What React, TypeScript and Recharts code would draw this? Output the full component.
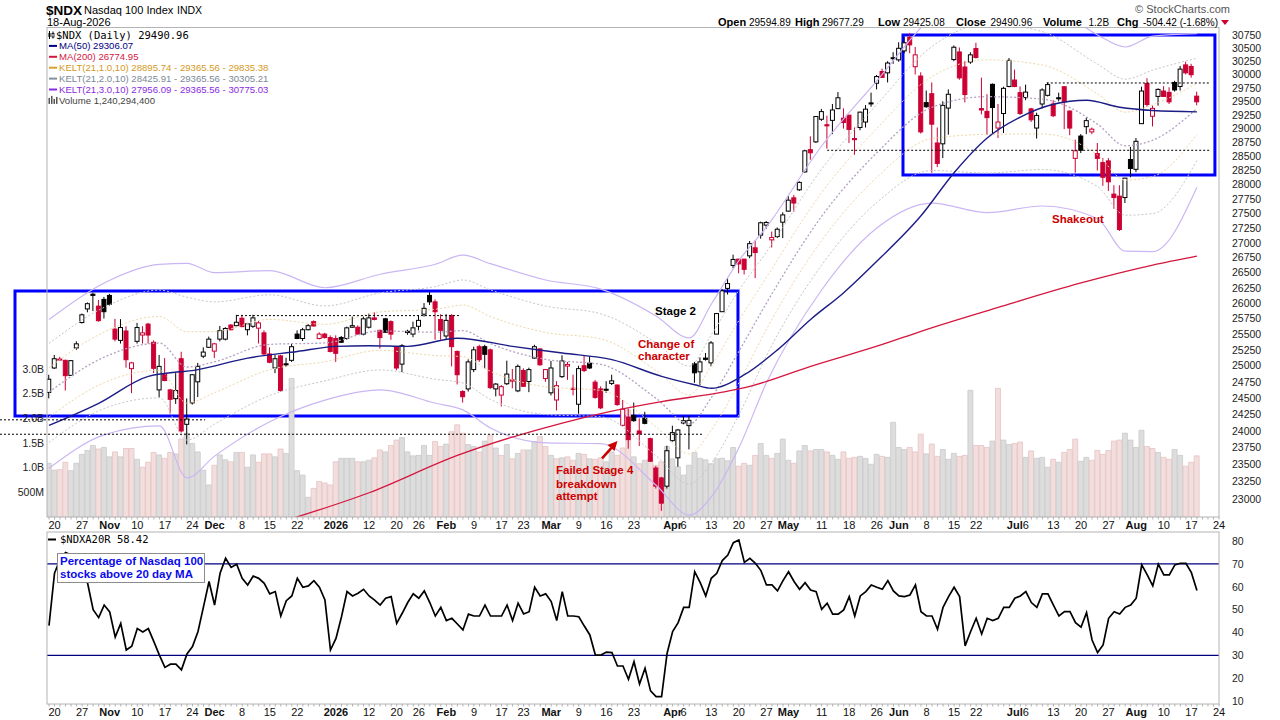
import React from 'react';
import {
  ComposedChart, LineChart, Bar, Line, XAxis, YAxis, Cell, ReferenceArea, ReferenceLine,
} from 'recharts';

const FONT = '"Liberation Sans", Arial, sans-serif';
const MONO = '"DejaVu Sans Mono", monospace';
const RED = '#cc0033';

// ---- x categories: trading-day index 0 = 17-Oct-2025 ... 208 = 18-Aug-2026 ----
const xTickIdx = [1, 6, 11, 16, 21, 26, 30, 35, 40, 45, 52, 58, 63, 67, 72, 77, 82, 86, 91, 96, 101, 106, 113, 115, 120, 125, 130, 134, 140, 145, 150, 154, 159, 164, 168, 175, 177, 182, 187, 192, 197, 202, 207, 212];
const xTickText = ['20', '27', 'Nov', '10', '17', '24', 'Dec', '8', '15', '22', '2026', '12', '20', '26', 'Feb', '9', '17', '23', 'Mar', '9', '16', '23', 'Apr', '6', '13', '20', '27', 'May', '11', '18', '26', 'Jun', '8', '15', '22', 'Jul', '6', '13', '20', '27', 'Aug', '10', '17', '24'];
const boldLabels = ['Nov', 'Dec', '2026', 'Feb', 'Mar', 'Apr', 'May', 'Jun', 'Jul', 'Aug'];
const priceTicks = [23000, 23250, 23500, 23750, 24000, 24250, 24500, 24750, 25000, 25250, 25500, 25750, 26000, 26250, 26500, 26750, 27000, 27250, 27500, 27750, 28000, 28250, 28500, 28750, 29000, 29250, 29500, 29750, 30000, 30250, 30500, 30750];
const volTicks = [0.5, 1, 1.5, 2, 2.5, 3];
const pctTicks = [10, 20, 30, 40, 50, 60, 70, 80];

// ---- OHLC ----
const opens = [
  24585, 24965, 25105, 25085, 24850, 25280, 25685, 25905, 26145, 25950,
  26060, 26125, 25580, 25400, 25550, 24955, 25385, 25485, 25660, 25370,
  24625, 24875, 24625, 24490, 25110, 24100, 24425, 24750, 25150, 25290,
  25230, 25420, 25420, 25645, 25635, 25755, 25570, 25625, 25595, 25520,
  25185, 24965, 25155, 25030, 25085, 25500, 25430, 25570, 25700, 25430,
  25500, 25445, 25430, 25445, 25430, 25610, 25610, 25500, 25610, 25760,
  25560, 25745, 25700, 25290, 25025, 25545, 25500, 25625, 25820, 26125,
  26020, 25735, 25470, 25800, 25225, 24600, 24640, 24940, 25300, 25300,
  25250, 24640, 24545, 24720, 24760, 24610, 24925, 24755, 25120, 25265,
  24800, 24580, 24470, 24830, 24995, 24650, 24405, 25000, 25040, 24745,
  24640, 24635, 24725, 24700, 24085, 24210, 24235, 24000, 24190, 23885,
  23450, 23305, 23185, 23855, 23600, 24120, 24080, 25030, 24905, 25120,
  25045, 25500, 25860, 26240, 26620, 26725, 26725, 26780, 26915, 27130,
  27300, 27050, 27105, 27350, 27540, 27770, 27910, 28225, 28620, 28760,
  29170, 29070, 29150, 29365, 29190, 29245, 28820, 29020, 29120, 29470,
  29835, 30055, 30030, 30315, 30275, 30445, 30705, 30145, 29970, 29475,
  29640, 28740, 28725, 29375, 30280, 30425, 30140, 30235, 30490, 29365,
  29315, 29815, 29010, 29275, 29775, 29895, 29660, 29570, 29360, 29010,
  29450, 29610, 29450, 29565, 29770, 29320, 28465, 28865, 29035, 28940,
  28550, 28390, 28420, 27835, 27800, 27775, 28445, 28270, 29090, 29830,
  29225, 29590, 29690, 29665, 29850, 29775, 30180, 30150, 29595,
];
const highs = [
  24860, 25170, 25140, 25095, 25090, 25385, 25830, 26010, 26170, 26050,
  26100, 26150, 25745, 25740, 25625, 25060, 25680, 25625, 25680, 25400,
  25170, 25120, 24640, 24885, 25220, 24495, 24870, 25045, 25290, 25460,
  25360, 25630, 25610, 25660, 25810, 25810, 25680, 25810, 25710, 25560,
  25290, 25170, 25170, 25125, 25345, 25560, 25600, 25660, 25720, 25530,
  25520, 25480, 25480, 25470, 25620, 25780, 25640, 25780, 25830, 25850,
  25570, 25760, 25720, 25310, 25340, 25570, 25700, 25800, 26000, 26180,
  26060, 25820, 25820, 25820, 25240, 24620, 25100, 25300, 25330, 25330,
  25270, 24730, 24700, 25080, 24950, 25020, 24960, 24970, 25330, 25270,
  24950, 25075, 24760, 25165, 25060, 24860, 25000, 25165, 25150, 24780,
  24680, 24760, 24860, 24710, 24470, 24340, 24430, 24190, 24290, 23900,
  23480, 23320, 23780, 24080, 24030, 24230, 24230, 25060, 25130, 25200,
  25390, 25840, 26230, 26410, 26800, 26730, 26730, 27030, 27040, 27360,
  27370, 27190, 27260, 27520, 27800, 27820, 28060, 28620, 28860, 29230,
  29360, 29235, 29450, 29670, 29370, 29250, 29020, 29310, 29430, 29660,
  29990, 30110, 30250, 30420, 30610, 30710, 30790, 30520, 30040, 29700,
  29850, 29020, 29500, 29720, 30550, 30510, 30250, 30420, 30600, 29940,
  29630, 29830, 29450, 29770, 30310, 30090, 29775, 29810, 29380, 29290,
  29740, 29850, 29520, 29660, 29780, 29330, 28800, 28900, 29200, 29020,
  28740, 28470, 28470, 27990, 27990, 28120, 28670, 28830, 29770, 29930,
  29420, 29740, 29780, 29760, 29880, 30160, 30240, 30200, 29677,
];
const lows = [
  24495, 24950, 25080, 24615, 24840, 25250, 25670, 25850, 25870, 25700,
  25750, 25960, 25385, 25350, 24970, 24575, 25350, 25350, 25350, 24885,
  24510, 24760, 24260, 24410, 23975, 23800, 24400, 24515, 25120, 25280,
  25120, 25385, 25400, 25560, 25625, 25610, 25480, 25600, 25350, 25155,
  25040, 24885, 24600, 24980, 25060, 25420, 25390, 25560, 25620, 25415,
  25430, 25210, 25060, 25360, 25410, 25600, 25495, 25480, 25590, 25720,
  25270, 25520, 25410, 24930, 24900, 25490, 25450, 25560, 25780, 25970,
  25410, 25410, 25410, 24990, 24710, 24430, 24600, 24900, 25060, 24960,
  24640, 24525, 24370, 24700, 24650, 24590, 24670, 24590, 25110, 25000,
  24750, 24540, 24310, 24810, 24780, 24540, 24260, 24900, 24950, 24490,
  24330, 24580, 24700, 24380, 24070, 23735, 24140, 23775, 24100, 23540,
  23150, 22830, 23150, 23840, 23470, 24100, 23725, 24735, 24700, 25080,
  24990, 25500, 25860, 26140, 26570, 26490, 26470, 26740, 26410, 27070,
  27240, 26920, 27080, 27080, 27530, 27530, 27890, 28210, 28440, 28740,
  29140, 28640, 28900, 29355, 29000, 28740, 28530, 28970, 29020, 29400,
  29720, 29940, 29850, 30200, 30240, 30400, 30400, 30000, 28910, 29380,
  28210, 28310, 28470, 28890, 30250, 29900, 29480, 30200, 30300, 29260,
  28885, 28920, 28830, 28920, 29760, 29760, 29250, 29520, 29120, 28820,
  29370, 29590, 29210, 29500, 28990, 28880, 28210, 28560, 28900, 28900,
  28250, 27980, 27890, 27580, 27200, 27680, 28130, 28220, 29090, 29400,
  29040, 29420, 29580, 29450, 29680, 29700, 30000, 29940, 29425,
];
const closes = [
  24790, 25110, 25095, 24845, 25080, 25345, 25810, 25990, 26125, 25715,
  25860, 25980, 25420, 25605, 25095, 25045, 25605, 25520, 25485, 24960,
  24990, 24770, 24480, 24615, 24000, 24180, 24860, 24990, 25215, 25420,
  25345, 25555, 25590, 25570, 25690, 25620, 25665, 25760, 25680, 25185,
  25055, 25110, 24615, 25020, 25300, 25430, 25570, 25635, 25630, 25500,
  25445, 25225, 25195, 25370, 25600, 25635, 25500, 25745, 25760, 25735,
  25445, 25530, 25500, 24965, 25315, 25525, 25600, 25720, 25915, 26020,
  25860, 25560, 25720, 25300, 24860, 24520, 25060, 25250, 25095, 25180,
  24660, 24715, 24675, 24870, 24780, 24990, 24680, 24940, 25300, 25015,
  24940, 24965, 24690, 25075, 25020, 24640, 24955, 24925, 24965, 24510,
  24350, 24620, 24765, 24400, 24330, 23870, 24155, 23960, 24115, 23550,
  23185, 22940, 23705, 23975, 24015, 24155, 24160, 24890, 25060, 25100,
  25360, 25830, 26200, 26320, 26720, 26645, 26555, 26985, 26835, 27340,
  27345, 27090, 27230, 27475, 27730, 27680, 28040, 28600, 28565, 29220,
  29310, 29050, 29340, 29565, 29110, 28985, 28800, 29300, 29355, 29455,
  29960, 29945, 30215, 30300, 30495, 30600, 30560, 30370, 28940, 29400,
  29080, 28375, 29425, 29630, 30515, 29935, 29625, 30370, 30320, 29340,
  29200, 29385, 29120, 29740, 30265, 29775, 29275, 29670, 29160, 29240,
  29710, 29810, 29235, 29550, 29490, 29010, 28600, 28610, 29145, 28990,
  28465, 28130, 28050, 27775, 27225, 28115, 28285, 28770, 29690, 29440,
  29370, 29720, 29590, 29490, 29710, 30100, 30030, 29995, 29491,
];
// volume, billions of shares
const volumes = [
  1.09, 0.95, 0.96, 1.11, 0.94, 1.09, 1.27, 1.35, 1.45, 1.38,
  1.41, 1.22, 1.32, 1.22, 1.39, 1.39, 1.17, 1.01, 1.11, 1.31,
  1.26, 1.19, 1.31, 1.28, 1.58, 1.70, 1.49, 1.32, 0.95, 0.65,
  1.05, 1.26, 1.16, 1.12, 1.31, 1.31, 1.01, 1.26, 1.11, 1.28,
  1.28, 1.22, 1.38, 1.29, 2.81, 0.94, 0.85, 0.40, 0.58, 0.72,
  0.69, 0.65, 1.12, 1.19, 1.19, 1.19, 1.12, 1.12, 1.15, 1.20,
  1.36, 1.32, 1.45, 1.56, 1.61, 1.32, 1.24, 1.25, 1.45, 1.25,
  1.53, 1.43, 1.48, 1.73, 1.87, 1.70, 1.47, 1.43, 1.32, 1.54,
  1.66, 1.40, 1.25, 1.47, 1.18, 1.29, 1.36, 1.36, 1.53, 1.63,
  1.43, 1.25, 1.18, 1.20, 1.22, 1.15, 1.29, 1.27, 1.18, 1.17,
  1.20, 1.12, 1.32, 1.25, 1.40, 2.17, 1.22, 1.08, 1.15, 1.18,
  1.05, 1.12, 1.43, 1.18, 1.02, 0.85, 1.05, 1.31, 1.19, 1.16,
  1.08, 1.18, 1.19, 1.14, 1.41, 1.03, 1.09, 1.05, 1.25, 1.49,
  1.25, 1.19, 1.29, 1.58, 1.15, 1.09, 1.34, 1.45, 1.34, 1.37,
  1.37, 1.32, 1.25, 1.17, 1.32, 1.19, 1.21, 1.23, 1.19, 1.07,
  1.27, 1.23, 1.21, 1.92, 1.41, 1.37, 1.41, 1.32, 1.68, 1.28,
  1.48, 1.23, 1.37, 1.17, 1.29, 1.23, 1.25, 2.57, 1.45, 1.45,
  1.41, 1.54, 2.61, 1.56, 1.47, 1.49, 1.52, 1.21, 1.34, 1.19,
  1.21, 1.01, 1.17, 1.11, 1.31, 1.37, 1.58, 1.13, 1.21, 1.15,
  1.35, 1.27, 1.35, 1.54, 1.56, 1.70, 1.56, 1.41, 1.76, 1.43,
  1.39, 1.31, 1.21, 1.17, 1.37, 1.25, 1.03, 1.11, 1.24,
];
// $NDXA20R : % of Nasdaq 100 stocks above 20-day MA
const pct20 = [
  43, 66, 72, 75, 74, 70, 66, 61.5, 50, 46.5,
  52, 49, 38, 44, 32.3, 34, 41.7, 40.2, 41.7, 36,
  30.1, 24.7, 26.1, 26.1, 23.6, 30.6, 33.8, 40.4, 51.3, 62.3,
  52, 65.9, 72.5, 68.5, 69.9, 63.7, 60.8, 64.7, 63.7, 61.5,
  56.9, 57.9, 47.2, 53.9, 56, 63.7, 59.8, 60.4, 62.7, 59.8,
  54.2, 32.3, 37.4, 46.9, 57.9, 56, 57.2, 58.9, 56, 54.2,
  52, 55, 55.7, 44, 48.4, 53.1, 56.9, 55, 58.2, 53.1,
  47.2, 51, 45.2, 46.2, 43.7, 41.1, 48, 47.2, 47.2, 52,
  47.2, 47.2, 47.2, 52, 45.2, 52.8, 48.1, 49.1, 59.8, 56,
  56.9, 53.5, 45.2, 57.9, 47.2, 47.2, 46.9, 42.8, 38.9, 30.1,
  30.1, 31.4, 31.2, 25.3, 25.3, 19.5, 27.2, 17.4, 24.3, 14.4,
  11.9, 11.9, 30.9, 40.4, 44.3, 51, 51, 66.6, 61.8, 56,
  63.7, 65.9, 71.5, 73.9, 79.3, 80.5, 70.7, 72.5, 70.3, 67.1,
  60.8, 60.8, 58.2, 62.7, 66.6, 62.3, 58.9, 61.8, 58.6, 57.9,
  50.1, 52.8, 48, 48, 49.9, 55.7, 47.2, 56, 57.9, 60.8,
  59.8, 58.9, 62.7, 58.2, 56, 55.7, 56.4, 60.8, 49.1, 47.2,
  47.2, 41.4, 51, 55.7, 59.8, 55.7, 34.1, 40.4, 46.2, 39.3,
  46.2, 45.2, 46.2, 51, 51, 55, 56, 57.9, 53.1, 51,
  56.9, 56.9, 52, 47.2, 49.1, 49.1, 44.3, 42.3, 48.7, 36.7,
  31.2, 34.5, 46.2, 49.1, 48.1, 51, 52, 55, 69.6, 65.2,
  60.4, 69.9, 65.2, 65.2, 69.6, 70.3, 70.3, 66.2, 58.42,
];

// ---- indicator lines (sparse points) ----
const ma50Idx = [0, 9, 18, 27, 36, 45, 52, 58, 65, 74, 84, 93, 102, 111, 117, 120, 126, 132, 138, 144, 150, 158, 164, 170, 176, 182, 188, 194, 200, 208];
const ma50Val = [24085, 24420, 24835, 24940, 25120, 25225, 25305, 25315, 25305, 25435, 25305, 25200, 25095, 24835, 24705, 24650, 24860, 25250, 25735, 26170, 26690, 27460, 28210, 28830, 29210, 29445, 29520, 29390, 29330, 29306];
const ma200Idx = [44, 58, 74, 93, 102, 111, 122, 127, 138, 151, 158, 172, 187, 200, 208];
const ma200Val = [22720, 23090, 23635, 24120, 24300, 24445, 24590, 24680, 24990, 25335, 25545, 25930, 26330, 26625, 26775];
// Keltner(21,k,10): middle line and ATR; bands are middle +/- k*ATR
const keltIdx = [0, 10, 20, 25, 30, 40, 50, 60, 70, 75, 80, 90, 100, 110, 116, 120, 125, 130, 140, 150, 160, 170, 180, 190, 195, 200, 208];
const keltMid = [24590, 25135, 25357, 24980, 25062, 25337, 25360, 25550, 25530, 25555, 25347, 25100, 25020, 24495, 24105, 24505, 25225, 26000, 27450, 28565, 29390, 29585, 29540, 29080, 28690, 28790, 29366];
const keltAtr = [381, 398, 427, 558, 479, 399, 297, 308, 370, 412, 434, 426, 403, 432, 445, 492, 492, 422, 412, 438, 570, 690, 637, 557, 610, 646, 470];

const X_MIN = -0.362;
const X_MAX = 212;
const P_MIN = 22742;
const P_MAX = 30904;
const V_MAX = 9.94;

type Row = {
  i: number; open: number; high: number; low: number; close: number; prevClose: number; vol: number;
  ma50: number | null; ma200: number | null;
  kMid: number | null; kU1: number | null; kU2: number | null; kU3: number | null;
  kL1: number | null; kL2: number | null; kL3: number | null;
};

function buildRows(): Row[] {
  const rows: Row[] = closes.map((c, i) => ({
    i, open: opens[i], high: highs[i], low: lows[i], close: c,
    prevClose: i > 0 ? closes[i - 1] : c, vol: volumes[i],
    ma50: null, ma200: null, kMid: null, kU1: null, kU2: null, kU3: null, kL1: null, kL2: null, kL3: null,
  }));
  ma50Idx.forEach((ix, k) => { rows[ix].ma50 = ma50Val[k]; });
  ma200Idx.forEach((ix, k) => { rows[ix].ma200 = ma200Val[k]; });
  keltIdx.forEach((ix, k) => {
    const m = keltMid[k]; const a = keltAtr[k]; const r = rows[ix];
    r.kMid = m; r.kU1 = m + a; r.kU2 = m + 2 * a; r.kU3 = m + 3 * a;
    r.kL1 = m - a; r.kL2 = m - 2 * a; r.kL3 = m - 3 * a;
  });
  return rows;
}

const allTicks = Array.from({ length: 213 }, (_, k) => k);
const tickMap: Record<number, { t: string; b: boolean }> = {};
xTickIdx.forEach((ix, k) => { tickMap[ix] = { t: xTickText[k], b: boldLabels.includes(xTickText[k]) }; });

const renderXTick = (props: any) => {
  const { x, y, payload } = props;
  const m = tickMap[payload.value];
  return (
    <g>
      <line x1={x} x2={x} y1={y} y2={y + 2.5} stroke="#b0b0b0" strokeWidth={1} />
      {m ? (
        <text x={x} y={y + 11.5} textAnchor="middle" fontSize={11} fontWeight={m.b ? 700 : 400} fontFamily={FONT} fill="#111">{m.t}</text>
      ) : null}
    </g>
  );
};

const fmtVol = (v: number) => (v < 1 ? `${Math.round(v * 1000)}M` : `${v.toFixed(1)}B`);

const CandleShape = (props: any) => {
  const { x, y, width, height, payload } = props;
  if (!payload || x == null || y == null) return null;
  const { open, close, high, low, prevClose } = payload as Row;
  const top = Math.min(y, y + height);
  const h = Math.abs(height);
  const lh = Math.log(high);
  const ll = Math.log(low);
  const py = (v: number) => (lh === ll ? top : top + ((lh - Math.log(v)) / (lh - ll)) * h);
  const color = close < prevClose ? RED : '#000';
  const hollow = close >= open;
  const cx = x + width / 2;
  const yO = py(open);
  const yC = py(close);
  const bTop = Math.min(yO, yC);
  const bH = Math.max(1, Math.abs(yO - yC));
  return (
    <g>
      <line x1={cx} x2={cx} y1={top} y2={top + h} stroke={color} strokeWidth={1} />
      <rect x={x + 0.5} y={bTop} width={Math.max(1, width - 1)} height={bH} fill={hollow ? '#fff' : color} stroke={color} strokeWidth={1} />
    </g>
  );
};

const axisTick = { fontSize: 10.5, fill: '#222', fontFamily: FONT };

export default function App() {
  const rows = buildRows();
  const pctRows = pct20.map((v, i) => ({ i, v }));
  const dotted = '2 2';
  const lg = (k: number) => 38.5 + 10.9 * k;

  return (
    <div style={{ position: 'absolute', left: 0, top: 0, width: 1280, height: 720, background: '#fff', overflow: 'hidden' }}>
      <div style={{ position: 'absolute', left: 0, top: 0 }}>
        <ComposedChart width={1280} height={532} data={rows} margin={{ top: 27, right: 0, bottom: 0, left: 0 }}>
          <XAxis xAxisId="main" dataKey="i" type="number" domain={[X_MIN, X_MAX]} allowDataOverflow ticks={allTicks} interval={0}
            tick={renderXTick} tickLine={false} axisLine={false} tickSize={0} tickMargin={0} height={15} />
          <XAxis xAxisId="volX" dataKey="i" type="number" domain={[X_MIN, X_MAX]} allowDataOverflow hide />
          <YAxis yAxisId="price" orientation="right" type="number" scale="log" domain={[P_MIN, P_MAX]} allowDataOverflow
            ticks={priceTicks} interval={0} width={61} tickLine={false} axisLine={false} tickSize={0} tickMargin={13} tick={axisTick} />
          <YAxis yAxisId="volY" orientation="left" type="number" domain={[0, V_MAX]} allowDataOverflow ticks={volTicks} interval={0}
            width={47} tickFormatter={fmtVol} tickLine={false} axisLine={false} tickSize={0} tickMargin={3} tick={axisTick} />

          <Bar xAxisId="volX" yAxisId="volY" dataKey="vol" barSize={5} isAnimationActive={false}>
            {rows.map((r) => (
              <Cell key={r.i} fill={r.close < r.prevClose ? '#f3dede' : '#dddddd'} stroke={r.close < r.prevClose ? '#e6c3c3' : '#c9c9c9'} strokeWidth={0.8} />
            ))}
          </Bar>

          <Line xAxisId="main" yAxisId="price" dataKey="kU3" type="monotone" stroke="#cbb6f3" strokeWidth={1.2} dot={false} connectNulls isAnimationActive={false} />
          <Line xAxisId="main" yAxisId="price" dataKey="kL3" type="monotone" stroke="#cbb6f3" strokeWidth={1.2} dot={false} connectNulls isAnimationActive={false} />
          <Line xAxisId="main" yAxisId="price" dataKey="kU2" type="monotone" stroke="#c6c6c6" strokeWidth={1} strokeDasharray={dotted} dot={false} connectNulls isAnimationActive={false} />
          <Line xAxisId="main" yAxisId="price" dataKey="kL2" type="monotone" stroke="#c6c6c6" strokeWidth={1} strokeDasharray={dotted} dot={false} connectNulls isAnimationActive={false} />
          <Line xAxisId="main" yAxisId="price" dataKey="kU1" type="monotone" stroke="#efd6a6" strokeWidth={1} strokeDasharray={dotted} dot={false} connectNulls isAnimationActive={false} />
          <Line xAxisId="main" yAxisId="price" dataKey="kL1" type="monotone" stroke="#efd6a6" strokeWidth={1} strokeDasharray={dotted} dot={false} connectNulls isAnimationActive={false} />
          <Line xAxisId="main" yAxisId="price" dataKey="kMid" type="monotone" stroke="#b4a0c2" strokeWidth={1.3} strokeDasharray={dotted} dot={false} connectNulls isAnimationActive={false} />
          <Line xAxisId="main" yAxisId="price" dataKey="ma200" type="monotone" stroke="#d4173f" strokeWidth={1.3} dot={false} connectNulls isAnimationActive={false} />
          <Line xAxisId="main" yAxisId="price" dataKey="ma50" type="monotone" stroke="#1c1c86" strokeWidth={1.4} dot={false} connectNulls isAnimationActive={false} />

          <Bar xAxisId="main" yAxisId="price" dataKey={(d: Row) => [d.low, d.high]} barSize={5} shape={CandleShape} isAnimationActive={false} />

          <ReferenceLine xAxisId="main" yAxisId="price" ifOverflow="visible" stroke="#000" strokeDasharray="2 2" segment={[{ x: 34.06, y: 25797 }, { x: 74.47, y: 25797 }]} />
          <ReferenceLine xAxisId="main" yAxisId="price" ifOverflow="visible" stroke="#000" strokeDasharray="2 2" segment={[{ x: -8.88, y: 24168 }, { x: 28.27, y: 24168 }]} />
          <ReferenceLine xAxisId="main" yAxisId="price" ifOverflow="visible" stroke="#000" strokeDasharray="2 2" segment={[{ x: -8.88, y: 23951 }, { x: 118.5, y: 23951 }]} />
          <ReferenceLine xAxisId="main" yAxisId="price" ifOverflow="visible" stroke="#000" strokeDasharray="2 2" segment={[{ x: 141, y: 28609 }, { x: 210.3, y: 28609 }]} />
          <ReferenceLine xAxisId="main" yAxisId="price" ifOverflow="visible" stroke="#000" strokeDasharray="2 2" segment={[{ x: 180.8, y: 29840 }, { x: 210.3, y: 29840 }]} />

          <ReferenceArea xAxisId="main" yAxisId="price" ifOverflow="visible" x1={-6.16} x2={124.84} y1={24227} y2={26198} fill="none" fillOpacity={0} stroke="#0000ff" strokeWidth={3} />
          <ReferenceArea xAxisId="main" yAxisId="price" ifOverflow="visible" x1={154.74} x2={211.26} y1={28171} y2={30750} fill="none" fillOpacity={0} stroke="#0000ff" strokeWidth={3} />
        </ComposedChart>
      </div>

      <div style={{ position: 'absolute', left: 0, top: 527 }}>
        <LineChart width={1280} height={193} data={pctRows} margin={{ top: 5, right: 0, bottom: 0, left: 47 }}>
          <XAxis dataKey="i" type="number" domain={[X_MIN, X_MAX]} allowDataOverflow ticks={allTicks} interval={0}
            tick={renderXTick} tickLine={false} axisLine={false} tickSize={0} tickMargin={0} height={16} />
          <YAxis orientation="right" type="number" domain={[8.66, 84]} allowDataOverflow ticks={pctTicks} interval={0} width={61}
            tickLine={false} axisLine={false} tickSize={0} tickMargin={13} tick={axisTick} />
          <ReferenceLine y={70} stroke="#000080" strokeWidth={1.2} />
          <ReferenceLine y={30} stroke="#000080" strokeWidth={1.2} />
          <Line dataKey="v" type="linear" stroke="#000" strokeWidth={1.7} dot={false} isAnimationActive={false} />
        </LineChart>
      </div>

      <svg width={1280} height={720} style={{ position: 'absolute', left: 0, top: 0, pointerEvents: 'none' }} fontFamily={FONT}>
        {/* panel frames */}
        <rect x={47} y={27.5} width={1172} height={489.5} fill="none" stroke="#b4b4b4" strokeWidth={1} />
        <rect x={47} y={532} width={1172} height={172} fill="none" stroke="#b4b4b4" strokeWidth={1} />

        {/* header */}
        <text x={46} y={15} fontSize={13.5} fontWeight={700} fill="#000">$NDX</text>
        <text x={84} y={14} fontSize={11} fill="#000">Nasdaq 100 Index</text>
        <text x={177} y={14} fontSize={10.5} fill="#000">INDX</text>
        <text x={47} y={26} fontSize={11} fill="#000">18-Aug-2026</text>
        <text x={1230} y={13} fontSize={11} fill="#555" textAnchor="end">© StockCharts.com</text>
        <g fill="#000">
          <text x={718} y={26} fontSize={11} fontWeight={700}>Open</text>
          <text x={749} y={26} fontSize={10}>29594.89</text>
          <text x={795} y={26} fontSize={11} fontWeight={700}>High</text>
          <text x={822} y={26} fontSize={10}>29677.29</text>
          <text x={878} y={26} fontSize={11} fontWeight={700}>Low</text>
          <text x={903} y={26} fontSize={10}>29425.08</text>
          <text x={956} y={26} fontSize={11} fontWeight={700}>Close</text>
          <text x={990.5} y={26} fontSize={10}>29490.96</text>
          <text x={1043} y={26} fontSize={11} fontWeight={700}>Volume</text>
          <text x={1088.5} y={26} fontSize={10}>1.2B</text>
          <text x={1117} y={26} fontSize={11} fontWeight={700}>Chg</text>
          <text x={1143} y={26} fontSize={10}>-504.42 (-1.68%)</text>
        </g>
        <polygon points="1221,20 1229,20 1225,25" fill={RED} />

        {/* legend */}
        <g fontSize={9.6}>
          <line x1={49.5} x2={49.5} y1={31} y2={39} stroke="#000" />
          <rect x={48.5} y={33} width={2} height={4} fill="#000" />
          <line x1={53} x2={53} y1={31.5} y2={38.5} stroke="#000" />
          <rect x={52} y={33.5} width={2} height={3.5} fill="#fff" stroke="#000" strokeWidth={0.8} />
          <text x={56} y={lg(0)} fill="#000" fontFamily={MONO} fontSize={10.5}>$NDX (Daily) 29490.96</text>
          <line x1={49} x2={57} y1={lg(1) - 3.5} y2={lg(1) - 3.5} stroke="#000080" strokeWidth={2} />
          <text x={59} y={lg(1)} fill="#000080">MA(50) 29306.07</text>
          <line x1={49} x2={57} y1={lg(2) - 3.5} y2={lg(2) - 3.5} stroke="#d4173f" strokeWidth={2} />
          <text x={59} y={lg(2)} fill="#d4173f">MA(200) 26774.95</text>
          <line x1={49} x2={57} y1={lg(3) - 3.5} y2={lg(3) - 3.5} stroke="#dba030" strokeWidth={2} />
          <text x={59} y={lg(3)} fill="#d49a22">KELT(21,1.0,10) 28895.74 - 29365.56 - 29835.38</text>
          <line x1={49} x2={57} y1={lg(4) - 3.5} y2={lg(4) - 3.5} stroke="#8290a0" strokeWidth={2} />
          <text x={59} y={lg(4)} fill="#7c8896">KELT(21,2.0,10) 28425.91 - 29365.56 - 30305.21</text>
          <line x1={49} x2={57} y1={lg(5) - 3.5} y2={lg(5) - 3.5} stroke="#8a2be2" strokeWidth={2} />
          <text x={59} y={lg(5)} fill="#8a2be2">KELT(21,3.0,10) 27956.09 - 29365.56 - 30775.03</text>
          <rect x={48.5} y={lg(6) - 6} width={1.5} height={6} fill="#555" />
          <rect x={51} y={lg(6) - 8} width={1.5} height={8} fill="#555" />
          <rect x={53.5} y={lg(6) - 5} width={1.5} height={5} fill="#555" />
          <rect x={56} y={lg(6) - 7} width={1.5} height={7} fill="#555" />
          <text x={59} y={lg(6)} fill="#444">Volume 1,240,294,400</text>
        </g>

        {/* annotations */}
        <g fontSize={11.5} fontWeight={700}>
          <text x={655} y={315} fill="#000">Stage 2</text>
          <text x={638} y={347.5} fill="#cc0000">Change of</text>
          <text x={638} y={360} fill="#cc0000">character</text>
          <text x={556} y={474} fill="#cc0000">Failed Stage 4</text>
          <text x={556} y={487.5} fill="#cc0000">breakdown</text>
          <text x={556} y={500} fill="#cc0000">attempt</text>
          <text x={1052} y={223} fill="#cc0000">Shakeout</text>
        </g>
        <line x1={602} y1={458.3} x2={611.5} y2={447.8} stroke="#cc0000" strokeWidth={2.6} />
        <polygon points="617.5,441 614.5,451 607.5,445" fill="#cc0000" />

        {/* lower panel legend + label box */}
        <line x1={48} x2={56} y1={539.5} y2={539.5} stroke="#000" strokeWidth={2} />
        <text x={60} y={543} fontSize={10.5} fontFamily={MONO} fill="#000">$NDXA20R 58.42</text>
        <rect x={57.5} y={553.5} width={147} height={29} fill="#fff" stroke="#8c8c8c" strokeWidth={1} />
        <text x={60} y={565} fontSize={11.5} fontWeight={700} fill="#0a0aee">Percentage of Nasdaq 100</text>
        <text x={60} y={578} fontSize={11.5} fontWeight={700} fill="#0a0aee">stocks above 20 day MA</text>
      </svg>
    </div>
  );
}
